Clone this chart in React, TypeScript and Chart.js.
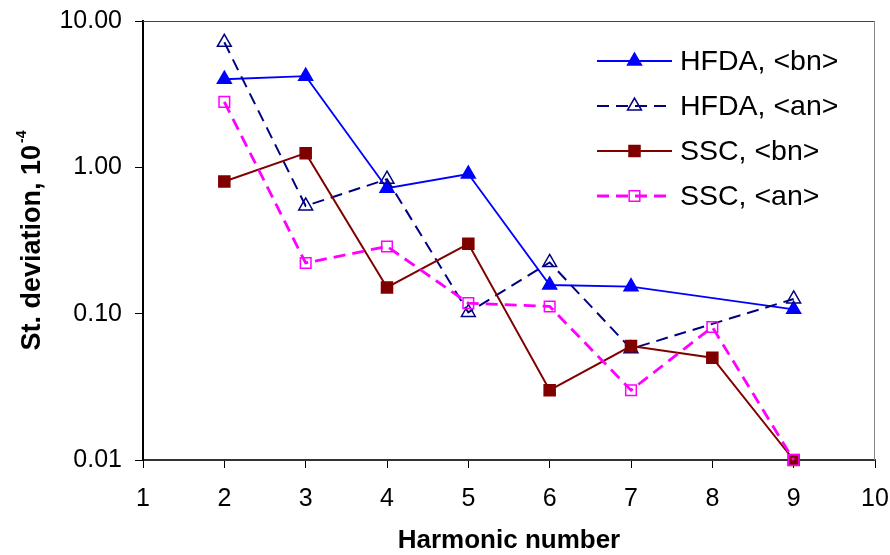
import React, { useEffect, useRef } from "react";
import { Chart, registerables } from "chart.js";

Chart.register(...registerables);

// ---- data ----
const harmonics = [2, 3, 4, 5, 6, 7, 8, 9];
const hfdaBn = [4.0, 4.2, 0.72, 0.9, 0.157, 0.153, null, 0.107];
const hfdaAn = [7.15, 0.545, 0.83, 0.102, 0.224, 0.0575, null, 0.126];
const sscBn = [0.8, 1.25, 0.151, 0.3, 0.03, 0.06, 0.05, 0.01];
const sscAn = [2.8, 0.222, 0.288, 0.118, 0.112, 0.03, 0.081, 0.01];
const seriesLabels = ["HFDA, <bn>", "HFDA, <an>", "SSC, <bn>", "SSC, <an>"];
const yTickValues = [0.01, 0.1, 1, 10];
const xTickMin = 1;
const xTickMax = 10;
const xTitle = "Harmonic number";
const yTitleMain = "St. deviation, 10";
const yTitleSup = "-4";

const FONT = "'Liberation Sans', Arial, Helvetica, sans-serif";

type Style = {
  color: string;
  dash: number[];
  width: number;
  shape: "triangle" | "rect";
  filled: boolean;
  radius: number;
};

const styles: Style[] = [
  { color: "#0000FF", dash: [], width: 1.8, shape: "triangle", filled: true, radius: 8 },
  { color: "#000080", dash: [12, 7], width: 2, shape: "triangle", filled: false, radius: 8 },
  { color: "#800000", dash: [], width: 2, shape: "rect", filled: true, radius: 7.8 },
  { color: "#FF00FF", dash: [12, 7], width: 2.8, shape: "rect", filled: false, radius: 7.5 },
];

function drawMarker(ctx: CanvasRenderingContext2D, s: Style, cx: number, cy: number) {
  ctx.save();
  ctx.setLineDash([]);
  ctx.beginPath();
  if (s.shape === "triangle") {
    const r = s.radius;
    ctx.moveTo(cx, cy - r);
    ctx.lineTo(cx + r * Math.sin((2 * Math.PI) / 3), cy + r / 2);
    ctx.lineTo(cx - r * Math.sin((2 * Math.PI) / 3), cy + r / 2);
    ctx.closePath();
  } else {
    const h = s.radius * Math.SQRT1_2;
    ctx.rect(cx - h, cy - h, 2 * h, 2 * h);
  }
  if (s.filled) {
    ctx.fillStyle = s.color;
    ctx.fill();
  }
  ctx.strokeStyle = s.color;
  ctx.lineWidth = 1.5;
  ctx.stroke();
  ctx.restore();
}

const decorPlugin = {
  id: "decor",
  afterDraw(chart: any) {
    const ctx: CanvasRenderingContext2D = chart.ctx;
    const a = chart.chartArea;
    ctx.save();
    // top and right frame
    ctx.setLineDash([]);
    ctx.lineWidth = 1;
    ctx.strokeStyle = "#444444";
    ctx.beginPath();
    ctx.moveTo(a.left, a.top + 0.5);
    ctx.lineTo(a.right, a.top + 0.5);
    ctx.stroke();
    ctx.strokeStyle = "#888888";
    ctx.beginPath();
    ctx.moveTo(a.right - 0.5, a.top);
    ctx.lineTo(a.right - 0.5, a.bottom);
    ctx.stroke();

    // y title with superscript
    ctx.save();
    ctx.translate(30.5, (a.top + a.bottom) / 2);
    ctx.rotate(-Math.PI / 2);
    ctx.fillStyle = "#000";
    ctx.textBaseline = "alphabetic";
    ctx.textAlign = "left";
    const mainFont = `bold 27px ${FONT}`;
    const supFont = `bold 14px ${FONT}`;
    ctx.font = mainFont;
    const wm = ctx.measureText(yTitleMain).width;
    ctx.font = supFont;
    const ws = ctx.measureText(yTitleSup).width;
    const total = wm + 2 + ws;
    const x0 = -total / 2;
    ctx.font = mainFont;
    ctx.fillText(yTitleMain, x0, 9.7);
    ctx.font = supFont;
    ctx.fillText(yTitleSup, x0 + wm + 2, -5);
    ctx.restore();

    // legend
    const lx0 = a.right - 278;
    const lx1 = a.right - 203;
    const tx = a.right - 195;
    seriesLabels.forEach((label, i) => {
      const s = styles[i];
      const y = a.top + 40 + 45 * i;
      ctx.save();
      ctx.strokeStyle = s.color;
      ctx.lineWidth = s.width;
      ctx.setLineDash(s.dash);
      ctx.beginPath();
      ctx.moveTo(lx0, y);
      ctx.lineTo(lx1, y);
      ctx.stroke();
      ctx.restore();
      drawMarker(ctx, s, (lx0 + lx1) / 2, y);
      ctx.fillStyle = "#000";
      ctx.font = `28.5px ${FONT}`;
      ctx.textBaseline = "middle";
      ctx.textAlign = "left";
      ctx.fillText(label, tx, y + 1);
    });
    ctx.restore();
  },
};

export default function App() {
  const ref = useRef<HTMLCanvasElement>(null);

  useEffect(() => {
    const canvas = ref.current;
    if (!canvas) return;
    const series = [hfdaBn, hfdaAn, sscBn, sscAn];
    const datasets = series.map((vals, i) => {
      const s = styles[i];
      return {
        label: seriesLabels[i],
        data: harmonics.map((h, k) => ({ x: h, y: vals[k] })),
        borderColor: s.color,
        backgroundColor: s.color,
        borderWidth: s.width,
        borderDash: s.dash,
        pointStyle: s.shape,
        pointRadius: s.radius,
        pointBorderWidth: 1.5,
        pointBorderColor: s.color,
        pointBackgroundColor: s.filled ? s.color : "rgba(0,0,0,0)",
        tension: 0,
        spanGaps: true,
        clip: false as any,
        order: 4 - i,
      };
    });

    const chart = new Chart(canvas, {
      type: "line",
      data: { datasets: datasets as any },
      options: {
        animation: false,
        responsive: false,
        events: [],
        layout: { padding: { left: 0, top: 21, right: 15, bottom: 0 } },
        plugins: {
          legend: { display: false },
          tooltip: { enabled: false },
        },
        scales: {
          x: {
            type: "linear",
            min: xTickMin,
            max: xTickMax,
            afterFit: (s: any) => {
              s.height = 95;
              s.paddingLeft = 0;
              s.paddingRight = 0;
            },
            ticks: {
              stepSize: 1,
              autoSkip: false,
              maxRotation: 0,
              padding: 16,
              color: "#000",
              font: { family: FONT, size: 25 },
              callback: (v: any) => String(v),
            },
            grid: {
              display: true,
              drawOnChartArea: false,
              drawTicks: true,
              tickLength: 8,
              color: "#000",
              lineWidth: 1,
            },
            border: { display: true, color: "#333333", width: 2 },
            title: {
              display: true,
              text: xTitle,
              color: "#000",
              font: { family: FONT, size: 26, weight: "bold" },
              padding: { top: 0, bottom: -1 },
            },
          },
          y: {
            type: "logarithmic",
            min: 0.01,
            max: 10,
            afterFit: (s: any) => {
              s.width = 143;
              s.paddingTop = 0;
              s.paddingBottom = 0;
            },
            afterBuildTicks: (s: any) => {
              s.ticks = yTickValues.map((v) => ({ value: v }));
            },
            ticks: {
              autoSkip: false,
              padding: 13,
              color: "#000",
              font: { family: FONT, size: 25 },
              callback: (v: any) => Number(v).toFixed(2),
            },
            grid: {
              display: true,
              drawOnChartArea: false,
              drawTicks: true,
              tickLength: 8,
              color: "#000",
              lineWidth: 1,
            },
            border: { display: true, color: "#000", width: 2 },
          },
        },
      },
      plugins: [decorPlugin],
    });

    return () => {
      chart.destroy();
    };
  }, []);

  return (
    <div style={{ position: "absolute", left: 0, top: 0, width: 890, height: 555, background: "#fff" }}>
      <canvas ref={ref} width={890} height={555} style={{ display: "block", width: 890, height: 555 }} />
    </div>
  );
}
